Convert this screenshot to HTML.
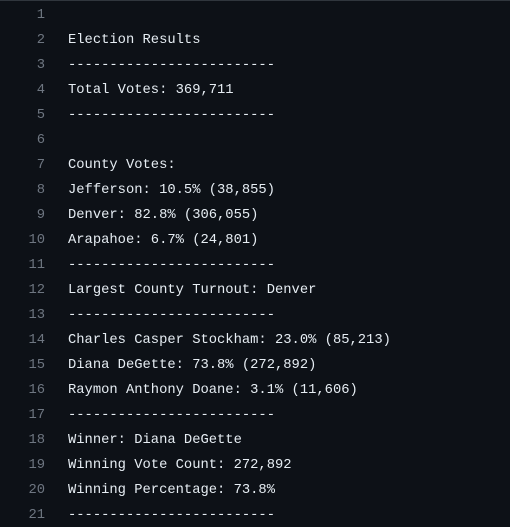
<!DOCTYPE html>
<html><head><meta charset="utf-8"><style>
html,body{margin:0;padding:0;background:#0d1117;width:510px;height:527px;overflow:hidden}
.wrap{border-top:1px solid #30363d;padding-top:2px}
.ln{display:flex;height:25px;line-height:25px;font-family:"Liberation Mono",monospace;font-size:13.8px;white-space:pre}
.n{width:45px;text-align:right;color:#6e7681;padding-right:23px}
.t{color:#e6edf3}
</style></head><body>
<div class="wrap">
<div class="ln"><span class="n">1</span><span class="t"></span></div>
<div class="ln"><span class="n">2</span><span class="t">Election Results</span></div>
<div class="ln"><span class="n">3</span><span class="t">-------------------------</span></div>
<div class="ln"><span class="n">4</span><span class="t">Total Votes: 369,711</span></div>
<div class="ln"><span class="n">5</span><span class="t">-------------------------</span></div>
<div class="ln"><span class="n">6</span><span class="t"></span></div>
<div class="ln"><span class="n">7</span><span class="t">County Votes:</span></div>
<div class="ln"><span class="n">8</span><span class="t">Jefferson: 10.5% (38,855)</span></div>
<div class="ln"><span class="n">9</span><span class="t">Denver: 82.8% (306,055)</span></div>
<div class="ln"><span class="n">10</span><span class="t">Arapahoe: 6.7% (24,801)</span></div>
<div class="ln"><span class="n">11</span><span class="t">-------------------------</span></div>
<div class="ln"><span class="n">12</span><span class="t">Largest County Turnout: Denver</span></div>
<div class="ln"><span class="n">13</span><span class="t">-------------------------</span></div>
<div class="ln"><span class="n">14</span><span class="t">Charles Casper Stockham: 23.0% (85,213)</span></div>
<div class="ln"><span class="n">15</span><span class="t">Diana DeGette: 73.8% (272,892)</span></div>
<div class="ln"><span class="n">16</span><span class="t">Raymon Anthony Doane: 3.1% (11,606)</span></div>
<div class="ln"><span class="n">17</span><span class="t">-------------------------</span></div>
<div class="ln"><span class="n">18</span><span class="t">Winner: Diana DeGette</span></div>
<div class="ln"><span class="n">19</span><span class="t">Winning Vote Count: 272,892</span></div>
<div class="ln"><span class="n">20</span><span class="t">Winning Percentage: 73.8%</span></div>
<div class="ln"><span class="n">21</span><span class="t">-------------------------</span></div>
</div>
</body></html>
